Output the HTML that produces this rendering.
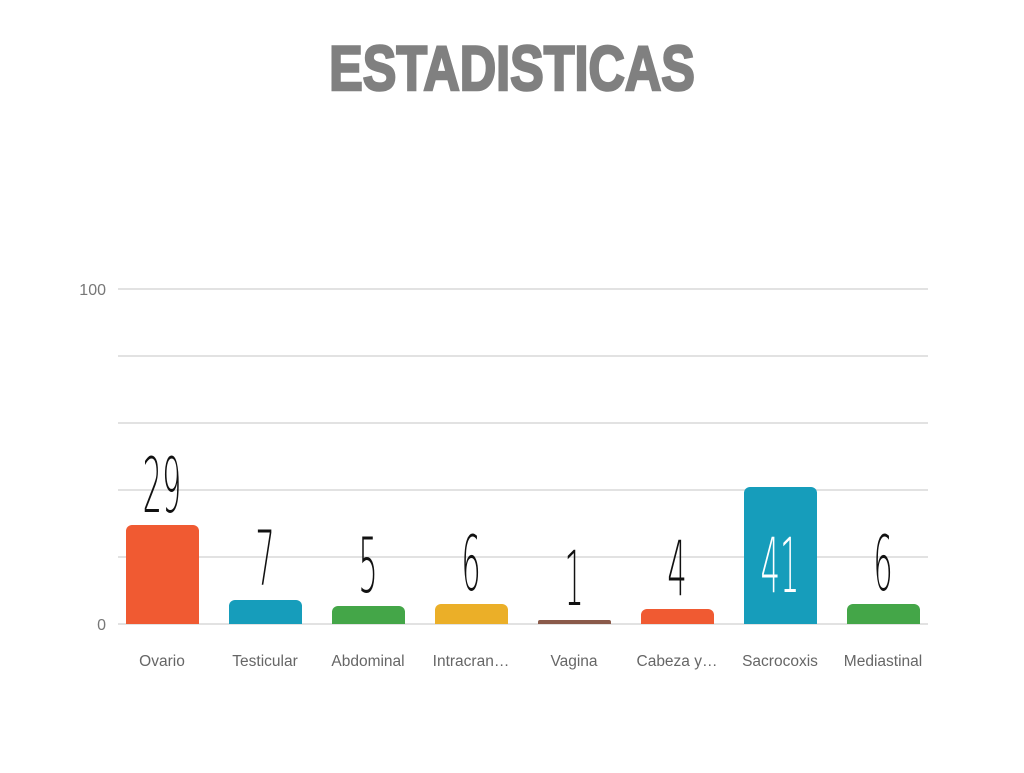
<!DOCTYPE html>
<html><head><meta charset="utf-8"><style>
html,body{margin:0;padding:0;background:#fff;}
</style></head><body>
<svg width="1024" height="768" xmlns="http://www.w3.org/2000/svg">
<rect width="1024" height="768" fill="#fff"/>
<text transform="translate(512,90) scale(0.80,1)" text-anchor="middle" font-family="Liberation Sans, sans-serif" font-weight="bold" font-size="63" fill="#808080" stroke="#808080" stroke-width="2.5">ESTADISTICAS</text>
<g stroke="#d9d9d9" stroke-width="1.5">
<line x1="118" y1="289" x2="928" y2="289"/>
<line x1="118" y1="356" x2="928" y2="356"/>
<line x1="118" y1="423" x2="928" y2="423"/>
<line x1="118" y1="490" x2="928" y2="490"/>
<line x1="118" y1="557" x2="928" y2="557"/>
<line x1="118" y1="624" x2="928" y2="624"/>
</g>
<g font-family="Liberation Sans, sans-serif" font-size="16" fill="#777" text-anchor="end">
<text x="106" y="295">100</text>
<text x="106" y="630">0</text>
</g>
<g>
<path d="M126,624 V531 a6,6 0 0 1 6,-6 H193 a6,6 0 0 1 6,6 V624Z" fill="#f05a32"/>
<path d="M229,624 V606 a6,6 0 0 1 6,-6 H296 a6,6 0 0 1 6,6 V624Z" fill="#169dbb"/>
<path d="M332,624 V612 a6,6 0 0 1 6,-6 H399 a6,6 0 0 1 6,6 V624Z" fill="#44a648"/>
<path d="M435,624 V610 a6,6 0 0 1 6,-6 H502 a6,6 0 0 1 6,6 V624Z" fill="#ebaf28"/>
<path d="M538,624 V622 a2,2 0 0 1 2,-2 H609 a2,2 0 0 1 2,2 V624Z" fill="#8a5a4a"/>
<path d="M641,624 V615 a6,6 0 0 1 6,-6 H708 a6,6 0 0 1 6,6 V624Z" fill="#f05a32"/>
<path d="M744,624 V493 a6,6 0 0 1 6,-6 H811 a6,6 0 0 1 6,6 V624Z" fill="#169dbb"/>
<path d="M847,624 V610 a6,6 0 0 1 6,-6 H914 a6,6 0 0 1 6,6 V624Z" fill="#44a648"/>
</g>
<g font-family="DejaVu Sans, Liberation Sans, sans-serif" font-weight="200" font-size="76" fill="#111" text-anchor="middle">
<text transform="translate(162,512) scale(0.4,1)">29</text>
<text transform="translate(265,585) scale(0.4,1)">7</text>
<text transform="translate(368,592) scale(0.4,1)">5</text>
<text transform="translate(471,590) scale(0.4,1)">6</text>
<text transform="translate(574,605) scale(0.4,1)">1</text>
<text transform="translate(677,595) scale(0.4,1)">4</text>
<text transform="translate(780,592) scale(0.4,1)" fill="#fff">41</text>
<text transform="translate(883,590) scale(0.4,1)">6</text>
</g>
<g font-family="Liberation Sans, sans-serif" font-size="15.5" fill="#666" text-anchor="middle">
<text x="162" y="666">Ovario</text>
<text x="265" y="666">Testicular</text>
<text x="368" y="666">Abdominal</text>
<text x="471" y="666">Intracran…</text>
<text x="574" y="666">Vagina</text>
<text x="677" y="666">Cabeza y…</text>
<text x="780" y="666">Sacrocoxis</text>
<text x="883" y="666">Mediastinal</text>
</g>
</svg>
</body></html>
